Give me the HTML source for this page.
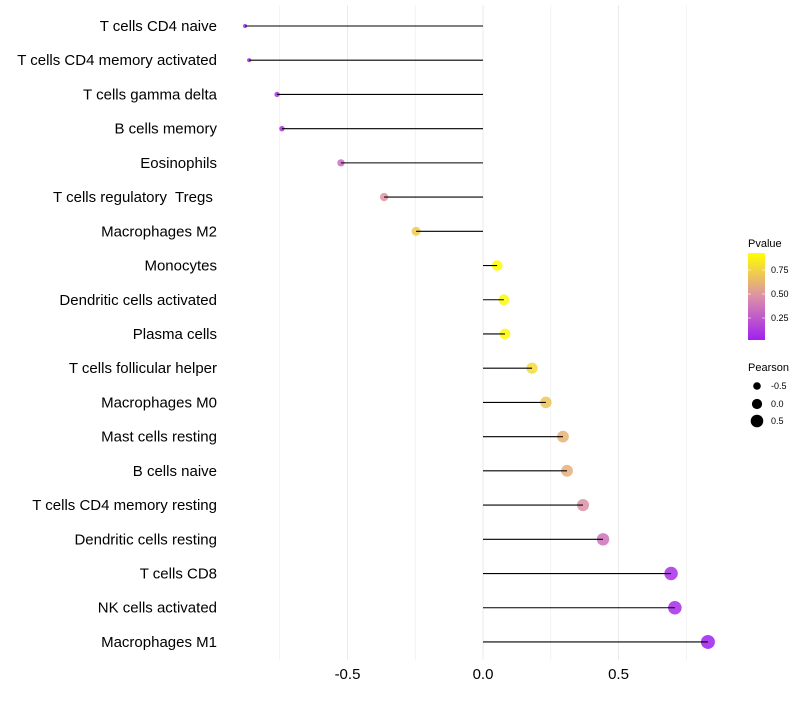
<!DOCTYPE html>
<html><head><meta charset="utf-8"><style>
body{margin:0;background:#fff;font-family:"Liberation Sans",sans-serif;}
text{white-space:pre;}
</style></head><body>
<svg id="chart" width="800" height="700" xmlns="http://www.w3.org/2000/svg" font-family="Liberation Sans, sans-serif">
<defs>
<linearGradient id="pgrad" x1="0" y1="1" x2="0" y2="0">
<stop offset="0" stop-color="#A020F0"/><stop offset="0.5" stop-color="#DC90A8"/><stop offset="1" stop-color="#FFFF00"/>
</linearGradient>
</defs>
<g id="grid"></g>
<g id="marks"></g>
<g id="ylabels"></g>
<g id="xlabels"></g>
<g>
<text x="748" y="247" font-size="11" fill="#000">Pvalue</text>
<rect x="748" y="253" width="17" height="87" fill="url(#pgrad)"/>
<line x1="748" x2="751" y1="270" y2="270" stroke="#fff" opacity="0.6"/><line x1="762" x2="765" y1="270" y2="270" stroke="#fff" opacity="0.6"/>
<line x1="748" x2="751" y1="294" y2="294" stroke="#fff" opacity="0.6"/><line x1="762" x2="765" y1="294" y2="294" stroke="#fff" opacity="0.6"/>
<line x1="748" x2="751" y1="318" y2="318" stroke="#fff" opacity="0.6"/><line x1="762" x2="765" y1="318" y2="318" stroke="#fff" opacity="0.6"/>
<text x="771" y="273" font-size="9">0.75</text>
<text x="771" y="297" font-size="9">0.50</text>
<text x="771" y="321" font-size="9">0.25</text>
</g>
<g>
<text x="748" y="371" font-size="11" fill="#000">Pearson</text>
<circle cx="757" cy="386" r="3.8" fill="#000"/>
<circle cx="757" cy="404" r="5.1" fill="#000"/>
<circle cx="757" cy="421" r="6.3" fill="#000"/>
<text x="771" y="389" font-size="9">-0.5</text>
<text x="771" y="407" font-size="9">0.0</text>
<text x="771" y="424" font-size="9">0.5</text>
</g>
</svg>
<script>
const categories=["T cells CD4 naive","T cells CD4 memory activated","T cells gamma delta","B cells memory","Eosinophils","T cells regulatory  Tregs ","Macrophages M2","Monocytes","Dendritic cells activated","Plasma cells","T cells follicular helper","Macrophages M0","Mast cells resting","B cells naive","T cells CD4 memory resting","Dendritic cells resting","T cells CD8","NK cells activated","Macrophages M1"];
const pearson=[-0.878,-0.863,-0.760,-0.742,-0.524,-0.365,-0.247,0.052,0.077,0.081,0.181,0.232,0.295,0.310,0.369,0.443,0.694,0.708,0.830];
const pvalues=[0.04,0.05,0.09,0.1,0.33,0.5,0.72,0.92,0.9,0.9,0.78,0.7,0.62,0.6,0.48,0.36,0.09,0.08,0.03];
const xTicks=[-0.5,0,0.5];
const xTickLabels=["-0.5","0.0","0.5"];
const xMinor=[-0.75,-0.25,0.25,0.75];
const NS="http://www.w3.org/2000/svg";
const x=v=>483+v*271;
const y=i=>26+i*34.22;
const rad=v=>Math.sqrt(Math.max(1,27+26.3*v));
function lerp(a,b,t){return a.map((c,i)=>Math.round(c+(b[i]-c)*t));}
function col(p){const lo=0.03,hi=0.93;let t=Math.min(1,Math.max(0,(p-lo)/(hi-lo)));
const s=[[160,32,240],[220,144,168],[255,255,0]];
const c=t<0.5?lerp(s[0],s[1],t*2):lerp(s[1],s[2],(t-0.5)*2);return `rgb(${c})`;}
function mk(tag,attrs,parent){const e=document.createElementNS(NS,tag);for(const k in attrs)e.setAttribute(k,attrs[k]);parent.appendChild(e);return e;}
const grid=document.getElementById('grid'),marks=document.getElementById('marks'),yl=document.getElementById('ylabels'),xl=document.getElementById('xlabels');
xMinor.concat(xTicks).forEach(v=>{const l=mk('line',{x1:x(v),x2:x(v),y1:5,y2:660,stroke:'#ebebeb','stroke-width':xTicks.includes(v)?1:0.6},grid);

});
xTicks.forEach((v,i)=>{const t=mk('text',{x:x(v),y:679,'font-size':15,'text-anchor':'middle',fill:'#000'},xl);t.textContent=xTickLabels[i];

});
categories.forEach((c,i)=>{
const t=mk('text',{x:217,y:y(i)+5,'font-size':15,'text-anchor':'end',fill:'#000'},yl);t.textContent=c;


const p=mk('circle',{cx:x(pearson[i]),cy:y(i),r:rad(pearson[i]),fill:col(pvalues[i]),'fill-opacity':0.85},marks);


const s=mk('line',{x1:x(0),x2:x(pearson[i]),y1:y(i),y2:y(i),stroke:'#000','stroke-width':1.1},marks);


});
</script>
</body></html>
